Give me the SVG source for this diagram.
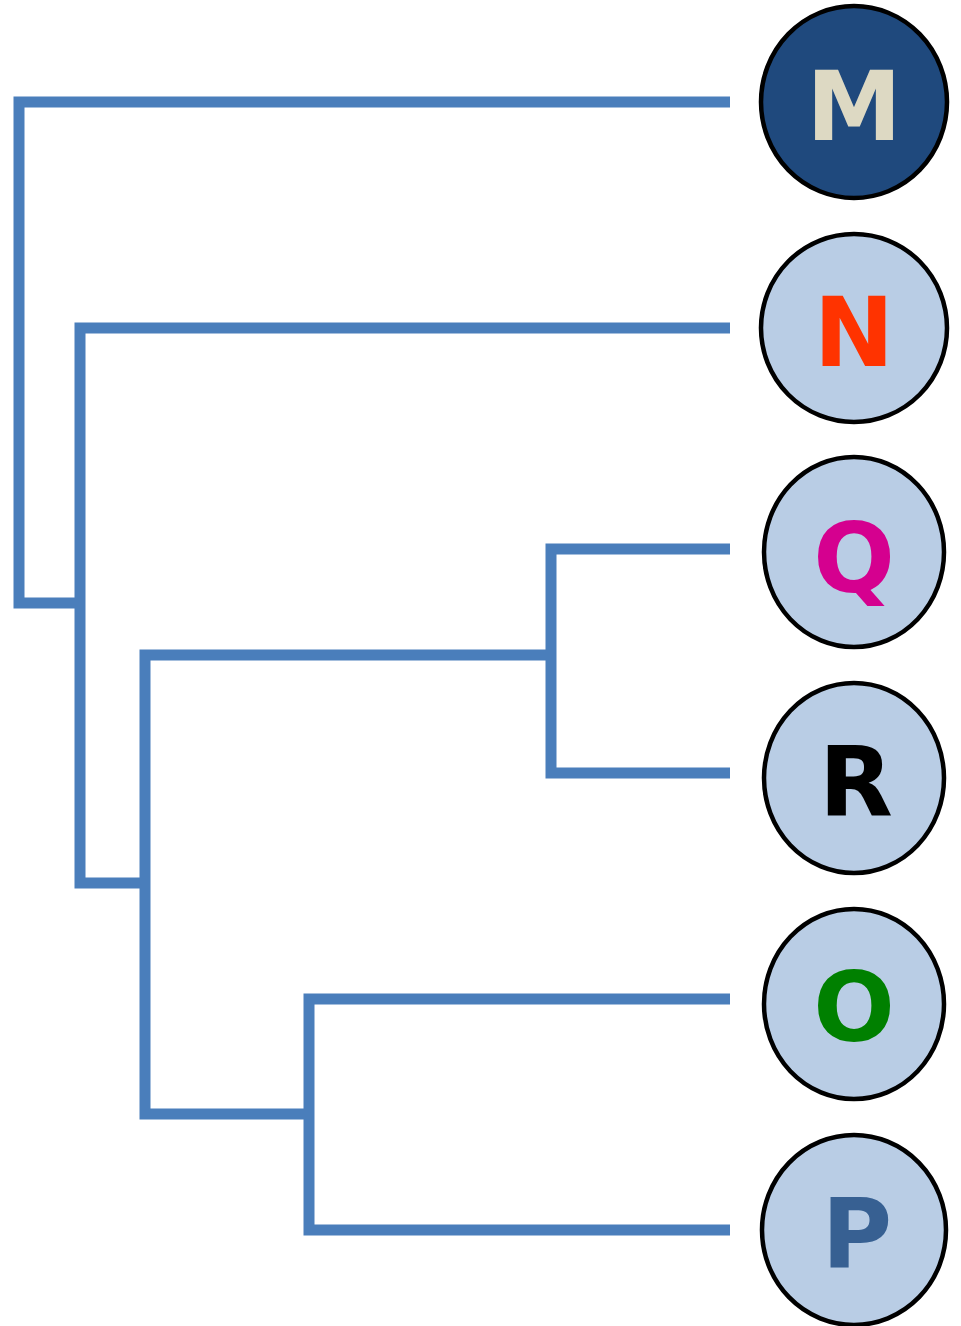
<svg xmlns="http://www.w3.org/2000/svg" width="961" height="1326" viewBox="0 0 961 1326">
<style>
.ln{fill:none;stroke:#4a7ebb;stroke-width:11;stroke-linecap:butt;stroke-linejoin:miter}
.nd{stroke:#000;stroke-width:4.5;fill:#b9cde5}
.lb{font-family:"DejaVu Sans",sans-serif;font-weight:bold;font-size:96px;text-anchor:middle}
</style>
<rect width="961" height="1326" fill="#fff"/>
<g id="connectors">
<path class="ln" d="M730,102 H19 V603 H80"/>
<path class="ln" d="M730,328 H80 V883 H145"/>
<path class="ln" d="M730,549 H551 V773 H730"/>
<path class="ln" d="M551,655 H145 V1114 H309"/>
<path class="ln" d="M730,999 H309 V1230 H730"/>
</g>
<g id="node-M"><ellipse class="nd" cx="854" cy="102" rx="93" ry="96" style="fill:#1f497d"/><text class="lb" x="854" y="140" fill="#ddd9c3">M</text></g>
<g id="node-N"><ellipse class="nd" cx="854" cy="328" rx="93" ry="94"/><text class="lb" x="854" y="366" fill="#ff3300">N</text></g>
<g id="node-Q"><ellipse class="nd" cx="854" cy="552" rx="90" ry="95"/><text class="lb" x="854" y="592" fill="#d5008f">Q</text></g>
<g id="node-R"><ellipse class="nd" cx="854" cy="778" rx="90" ry="95"/><text class="lb" x="856" y="816" fill="#000">R</text></g>
<g id="node-O"><ellipse class="nd" cx="854" cy="1004" rx="90" ry="95"/><text class="lb" x="854" y="1041" fill="#008000">O</text></g>
<g id="node-P"><ellipse class="nd" cx="854" cy="1230" rx="92" ry="95"/><text class="lb" x="857" y="1267" fill="#376092">P</text></g>
</svg>
